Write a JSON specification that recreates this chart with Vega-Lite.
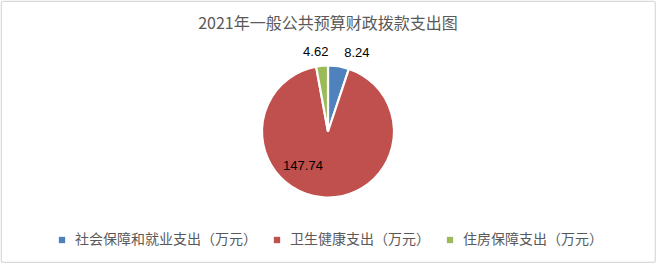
{
  "$schema": "https://vega.github.io/schema/vega-lite/v6.json",
  "autosize": {"type": "none"},
  "padding": 1,
  "width": 654,
  "height": 261,
  "background": "white",
  "view": {"stroke": "#d9d9d9", "strokeWidth": 1.2, "cornerRadius": 2, "fill": "white"},
  "config": {
    "view": {"stroke": "#d9d9d9", "strokeWidth": 1.2, "cornerRadius": 2},
    "font": "Noto Sans CJK SC"
  },
  "title": {
    "text": "2021年一般公共预算财政拨款支出图",
    "anchor": "middle",
    "offset": -31,
    "font": "Noto Sans CJK SC",
    "fontSize": 16,
    "fontWeight": "normal",
    "color": "#595959"
  },
  "data": {
    "values": [
      {"category": "社会保障和就业支出（万元）", "value": 8.24},
      {"category": "卫生健康支出（万元）", "value": 147.74},
      {"category": "住房保障支出（万元）", "value": 4.62}
    ]
  },
  "encoding": {
    "theta": {"field": "value", "type": "quantitative", "stack": true},
    "order": {"field": "category", "sort": "descending"}
  },
  "layer": [
    {
      "mark": {"type": "arc", "outerRadius": 66, "stroke": "white", "strokeWidth": 2.2},
      "encoding": {
        "color": {
          "field": "category",
          "type": "nominal",
          "scale": {
            "domain": ["社会保障和就业支出（万元）", "卫生健康支出（万元）", "住房保障支出（万元）"],
            "range": ["#4F81BD", "#C0504D", "#9BBB59"]
          },
          "legend": {
            "title": null,
            "orient": "none",
            "legendX": 54,
            "legendY": 232,
            "direction": "horizontal",
            "symbolType": "square",
            "symbolSize": 40,
            "symbolStrokeWidth": 0,
            "labelFont": "Noto Sans CJK SC",
            "labelFontSize": 14,
            "labelColor": "#595959",
            "labelOffset": 6,
            "columnPadding": 13,
            "padding": 0,
            "labelLimit": 400
          }
        }
      }
    },
    {
      "mark": {"type": "text", "radius": 80, "dx": 16, "font": "Liberation Sans", "fontSize": 13, "color": "#000000"},
      "encoding": {
        "text": {"condition": {"test": "datum.category === '社会保障和就业支出（万元）'", "field": "value", "type": "quantitative"}, "value": ""}
      }
    },
    {
      "mark": {"type": "text", "radius": 42.5, "dx": -22, "dy": -8, "font": "Liberation Sans", "fontSize": 13, "color": "#000000"},
      "encoding": {
        "text": {"condition": {"test": "datum.category === '卫生健康支出（万元）'", "field": "value", "type": "quantitative"}, "value": ""}
      }
    },
    {
      "mark": {"type": "text", "radius": 80, "dx": -5, "font": "Liberation Sans", "fontSize": 13, "color": "#000000"},
      "encoding": {
        "text": {"condition": {"test": "datum.category === '住房保障支出（万元）'", "field": "value", "type": "quantitative"}, "value": ""}
      }
    }
  ]
}
